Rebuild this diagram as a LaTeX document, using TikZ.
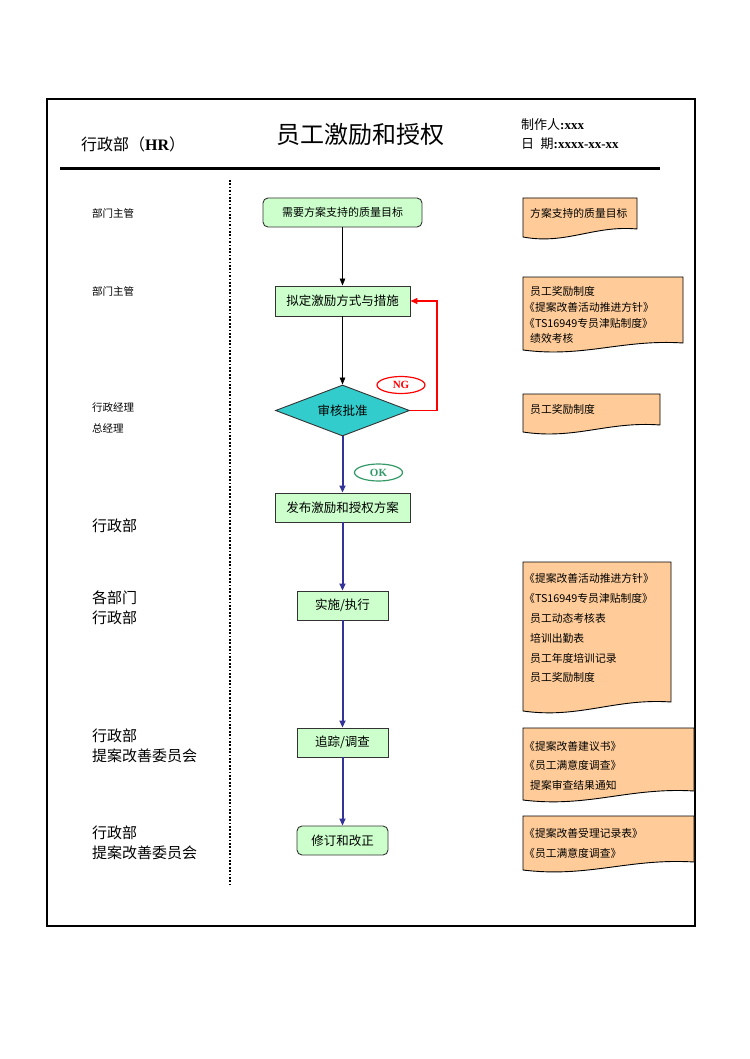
\documentclass[tikz,border=0pt]{standalone}
\usepackage{fontspec}
\setmainfont{Noto Sans CJK SC}
\newfontfamily\latb{Liberation Serif}
\usetikzlibrary{arrows.meta,shapes.geometric}
\definecolor{boxgreen}{HTML}{CCFFCC}
\definecolor{diacol}{HTML}{33CCCC}
\definecolor{docfill}{HTML}{FFCC99}
\definecolor{flowblue}{HTML}{333399}
\definecolor{okgreen}{HTML}{339966}
\definecolor{boxline}{HTML}{333333}
\tikzset{
  stepbox/.style={draw=boxline, fill=boxgreen, line width=0.9pt, minimum height=29pt, inner sep=0pt, font=\fontsize{12.5}{15}\selectfont},
  roundbox/.style={stepbox, rounded corners=5pt},
  decision/.style={diamond, draw=boxline, fill=diacol, line width=0.9pt, aspect=2.63, minimum width=134pt, minimum height=51pt, inner sep=0pt, font=\fontsize{12.5}{15}\selectfont},
  blk/.style={-{Triangle[length=7pt,width=5.5pt]}, line width=0.8pt, draw=black},
  blu/.style={-{Triangle[length=7pt,width=6pt]}, line width=2pt, draw=flowblue},
  ngline/.style={-{Triangle[length=7pt,width=6pt]}, line width=1.4pt, draw=red},
  tag/.style={ellipse, draw, line width=1.2pt, minimum width=48pt, minimum height=17pt, inner sep=0pt, font=\latb\bfseries\fontsize{11}{13}\selectfont},
  docstyle/.style={fill=docfill, draw=black, line width=0.9pt},
  doctext/.style={anchor=west, inner sep=0pt, font=\fontsize{10.8}{13}\selectfont},
  lbls/.style={anchor=west, inner sep=0pt, font=\fontsize{10.5}{13}\selectfont},
  lblb/.style={anchor=west, inner sep=0pt, font=\fontsize{15}{18}\selectfont},
}
\newcommand\mydoc[5]{%
  \path[docstyle] (#1,#3) -- (#2,#3) -- (#2,#5)
    .. controls ({#1+0.62*(#2-#1)},{#5-4}) and ({#1+0.38*(#2-#1)},{#4+8}) .. (#1,#4) -- cycle;}
\begin{document}
\begin{tikzpicture}[x=1pt,y=-1pt]
\useasboundingbox (0,0) rectangle (749,1059);
\fill[white] (0,0) rectangle (749,1059);
% frame and header
\draw[line width=2.2pt] (47,99) rectangle (695,926);
\draw[line width=3pt] (60,169) -- (660,169);
\node[anchor=west, inner sep=0pt, font=\fontsize{16}{19}\selectfont] (dept) at (81,144) {行政部（{\latb\bfseries HR}）};
\node[inner sep=0pt, font=\fontsize{24}{28}\selectfont] (title) at (360.5,134) {员工激励和授权};
\node[anchor=west, inner sep=0pt, font=\fontsize{13}{15}\selectfont] (maker) at (521,125) {制作人{\latb\bfseries :xxx}};
\node[anchor=west, inner sep=0pt, font=\fontsize{13}{15}\selectfont] (date) at (521,144) {日\hspace{0.5em}期{\latb\bfseries :xxxx-xx-xx}};
% dotted separator
\draw[line width=1.7pt, dash pattern=on 1.7pt off 1.7pt] (230,180) -- (230,884);
% left labels
\node[lbls] (l1) at (92,213) {部门主管};
\node[lbls] (l2) at (92,291) {部门主管};
\node[lbls] (l3a) at (92,408) {行政经理};
\node[lbls] (l3b) at (92,428) {总经理};
\node[lblb] (l4) at (92,526) {行政部};
\node[lblb] (l5a) at (92,598) {各部门};
\node[lblb] (l5b) at (92,618) {行政部};
\node[lblb] (l6a) at (92,736) {行政部};
\node[lblb] (l6b) at (92,756) {提案改善委员会};
\node[lblb] (l7a) at (92,833) {行政部};
\node[lblb] (l7b) at (92,853) {提案改善委员会};
% flow nodes
\node[roundbox, minimum width=159pt, font=\fontsize{11}{13}\selectfont] (b1) at (342.5,212.5) {需要方案支持的质量目标};
\node[stepbox, minimum width=135pt, minimum height=30pt] (b2) at (342.5,301) {拟定激励方式与措施};
\node[decision] (dia) at (342.5,410.5) {审核批准};
\node[stepbox, minimum width=135pt] (b4) at (342.5,507.5) {发布激励和授权方案};
\node[stepbox, minimum width=91pt] (b5) at (342.5,605.5) {实施/执行};
\node[stepbox, minimum width=91pt] (b6) at (342.5,742.5) {追踪/调查};
\node[roundbox, minimum width=91pt] (b7) at (342.5,840.5) {修订和改正};
% connectors
\draw[blk] (b1) -- (b2);
\draw[blk] (b2) -- (dia);
\draw[blu] (dia) -- (b4);
\draw[blu] (b4) -- (b5);
\draw[blu] (b5) -- (b6);
\draw[blu] (b6) -- (b7);
\draw[ngline] (dia.east) -- ++(27,0) |- (b2.east);
\node[tag, draw=red, text=red] (ng) at (401,385) {NG};
\node[tag, draw=okgreen, text=okgreen] (ok) at (378.5,472.5) {OK};
% documents
\mydoc{523}{637}{198}{237}{229}
\node[doctext] (d1) at (530,213) {方案支持的质量目标};
\mydoc{523}{683}{277}{350}{343}
\node[doctext] (d2a) at (530,291) {员工奖励制度};
\node[doctext] (d2b) at (524,307) {《提案改善活动推进方针》};
\node[doctext] (d2c) at (524,323) {《TS16949专员津贴制度》};
\node[doctext] (d2d) at (530,338) {绩效考核};
\mydoc{523}{660}{394}{432}{425}
\node[doctext] (d3) at (530,409) {员工奖励制度};
\mydoc{523}{671}{562}{711}{702}
\node[doctext] (d4a) at (524,578) {《提案改善活动推进方针》};
\node[doctext] (d4b) at (524,598) {《TS16949专员津贴制度》};
\node[doctext] (d4c) at (530,618) {员工动态考核表};
\node[doctext] (d4d) at (530,638) {培训出勤表};
\node[doctext] (d4e) at (530,658) {员工年度培训记录};
\node[doctext] (d4f) at (530,677) {员工奖励制度};
\mydoc{523}{694}{728}{800}{791}
\node[doctext] (d5a) at (524,746) {《提案改善建议书》};
\node[doctext] (d5b) at (524,765) {《员工满意度调查》};
\node[doctext] (d5c) at (530,785) {提案审查结果通知};
\mydoc{523}{694}{816}{870}{862}
\node[doctext] (d6a) at (524,833) {《提案改善受理记录表》};
\node[doctext] (d6b) at (524,853) {《员工满意度调查》};
\end{tikzpicture}
\end{document}
